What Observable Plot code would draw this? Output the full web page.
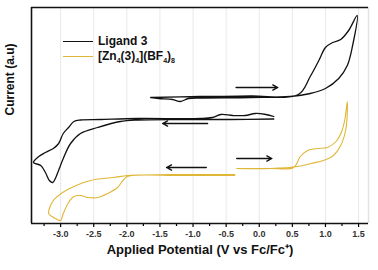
<!DOCTYPE html>
<html>
<head>
<meta charset="utf-8">
<script src="https://cdn.jsdelivr.net/npm/d3@7"></script>
<script src="https://cdn.jsdelivr.net/npm/@observablehq/plot@0.6"></script>
<style>
  html, body { margin: 0; padding: 0; background: #fff; }
  #wrap { position: relative; width: 378px; height: 270px; font-family: "Liberation Sans", Arial, sans-serif; }
  .leg { position: absolute; left: 63px; font-weight: bold; font-size: 12px; color: #111; display: flex; align-items: center; }
  .leg .sw { display: inline-block; width: 30px; height: 0; margin-right: 5px; }
  .leg sub { font-size: 7px; vertical-align: -3px; }
</style>
</head>
<body>
<div id="wrap"></div>
<script>
// ---- data (potential in V vs Fc/Fc+, current in arbitrary units) ----
const seriesNames = ["Ligand 3", "[Zn4(3)4](BF4)8"];
const seriesColors = ["#111111", "#e0b635"];

// Ligand 3, anodic scan loop
const ligandAnodicV = [-1.64, -0.89, -0.13, 0.59, 0.77, 0.90, 1.00, 1.11, 1.23, 1.35, 1.48,
  1.41, 1.33, 1.20, 1.00, 0.77, 0.47, -0.13, -0.89, -1.07, -1.19, -1.31, -1.52, -1.64];
const ligandAnodicI = [126, 127, 127.5, 129, 147, 163, 176, 181, 184, 193, 208,
  178, 158, 145, 135, 130, 127, 126, 125.5, 125, 122, 124, 125, 126];

// Ligand 3, cathodic scan loop
const ligandCathodicV = [0.22, 0.10, -0.06, -0.21, -0.40, -0.58, -0.71, -0.89, -1.84, -2.40, -2.70, -2.80,
  -2.88, -2.96, -3.03, -3.11, -3.23, -3.33, -3.41, -3.30, -3.23, -3.17, -3.12, -3.08, -3.02, -2.96,
  -2.85, -2.70, -2.44, -2.10, -1.84, -1.19, -0.43, 0.22];
const ligandCathodicI = [107, 109, 110, 108, 108, 109, 106, 105, 105, 104, 103.5, 102,
  96, 90, 80, 75, 71, 67, 61, 58, 51, 43, 41, 45, 55, 65,
  80, 90, 96, 102, 103.5, 104, 104, 104.5];

// [Zn4(3)4](BF4)8, cathodic scan loop
const complexCathodicV = [-0.37, -1.19, -1.79, -1.99, -2.20, -2.55, -2.80, -2.97, -3.11, -3.17, -3.18,
  -3.08, -3.00, -2.96, -2.88, -2.80, -2.70, -2.59, -2.44, -2.29, -2.14, -2.06, -1.99, -1.19, -0.37];
const complexCathodicI = [49, 49, 48.5, 48, 46, 43, 37, 31, 23, 15, 10,
  5, 3, 10, 21, 27, 28, 26, 26, 30, 36, 43, 47, 48, 48];

// [Zn4(3)4](BF4)8, anodic scan loop
const complexAnodicV = [-0.34, 0.17, 0.52, 0.62, 0.73, 0.88, 1.03, 1.16, 1.24, 1.29, 1.33,
  1.31, 1.23, 1.12, 0.97, 0.78, 0.58, 0.17, -0.34];
const complexAnodicI = [55, 55, 56, 67, 73, 75, 76, 82, 91, 103, 122,
  95, 78, 68, 63, 60, 57, 55, 55];

// scan-direction arrows
const arrowX1 = [-0.35, -0.78, -0.80, -0.34];
const arrowX2 = [0.28, -1.46, -1.40, 0.19];
const arrowI = [136, 100, 56, 65];

// axes
const xDomain = [-3.44, 1.65];
const yDomain = [0, 216];
const majorTicks = [-3.0, -2.5, -2.0, -1.5, -1.0, -0.5, 0.0, 0.5, 1.0, 1.5];
const minorTicks = [-3.25, -2.75, -2.25, -1.75, -1.25, -0.75, -0.25, 0.25, 0.75, 1.25];
const xLabel = "Applied Potential (V vs Fc/Fc\u207A)";
const yLabel = "Current (a.u)";

// ---- build tables ----
function loop(name, seg, V, I) { return V.map((v, i) => ({name, seg, v, c: I[i]})); }
const rows = [
  ...loop(seriesNames[0], "a", ligandAnodicV, ligandAnodicI),
  ...loop(seriesNames[0], "b", ligandCathodicV, ligandCathodicI),
  ...loop(seriesNames[1], "c", complexCathodicV, complexCathodicI),
  ...loop(seriesNames[1], "d", complexAnodicV, complexAnodicI)
];
const arrows = arrowX1.map((x1, i) => ({x1, x2: arrowX2[i], y: arrowI[i]}));
const colorOf = Object.fromEntries(seriesNames.map((n, i) => [n, seriesColors[i]]));

const chart = Plot.plot({
  width: 378,
  height: 270,
  marginLeft: 31,
  marginRight: 10,
  marginTop: 7,
  marginBottom: 47,
  style: {fontFamily: "Liberation Sans, Arial, sans-serif", background: "#fff"},
  x: {domain: xDomain},
  y: {domain: yDomain, axis: null},
  marks: [
    Plot.gridX(majorTicks, {stroke: "#e8e8e8", strokeOpacity: 1}),
    Plot.ruleX([xDomain[1]], {stroke: "#e2e2e2", strokeWidth: 1.5}),
    Plot.axisX(minorTicks, {tickSize: 3, text: null, strokeWidth: 1.2}),
    Plot.axisX(majorTicks, {tickSize: 4, strokeWidth: 1.2, tickFormat: d => d.toFixed(1), fontSize: 9, fontWeight: "bold", fill: "#333", tickPadding: 3, label: null}),
    Plot.line(rows.filter(d => d.name === seriesNames[1]), {x: "v", y: "c", z: "seg", stroke: colorOf[seriesNames[1]], strokeWidth: 1.1, curve: "catmull-rom"}),
    Plot.line(rows.filter(d => d.name === seriesNames[0]), {x: "v", y: "c", z: "seg", stroke: colorOf[seriesNames[0]], strokeWidth: 1.3, curve: "catmull-rom"}),
    Plot.arrow(arrows, {x1: "x1", x2: "x2", y1: "y", y2: "y", stroke: "#111", strokeWidth: 1.4, headLength: 6, headAngle: 55}),
    Plot.ruleX([xDomain[0]], {stroke: "#111", strokeWidth: 1.6}),
    Plot.ruleY([yDomain[0]], {stroke: "#111", strokeWidth: 1.6}),
    Plot.ruleY([yDomain[1]], {stroke: "#111", strokeWidth: 1.6}),
    Plot.text([xLabel], {frameAnchor: "bottom", dy: 30, fontSize: 13, fontWeight: "bold", fill: "#111"}),
    Plot.text([yLabel], {frameAnchor: "left", dx: -21, rotate: -90, fontSize: 12, fontWeight: "bold", fill: "#111"})
  ]
});

const wrap = document.getElementById("wrap");
wrap.appendChild(chart);

// legend overlay
const legendHtml = [
  "Ligand 3",
  "[Zn<sub>4</sub>(3)<sub>4</sub>](BF<sub>4</sub>)<sub>8</sub>"
];
const legendTop = [34, 49];
legendHtml.forEach((html, i) => {
  const div = document.createElement("div");
  div.className = "leg";
  div.style.top = legendTop[i] + "px";
  div.innerHTML = `<span class="sw" style="border-top:${i === 0 ? 1.3 : 1.5}px solid ${seriesColors[i]}"></span><span>${html}</span>`;
  wrap.appendChild(div);
});
</script>
</body>
</html>
